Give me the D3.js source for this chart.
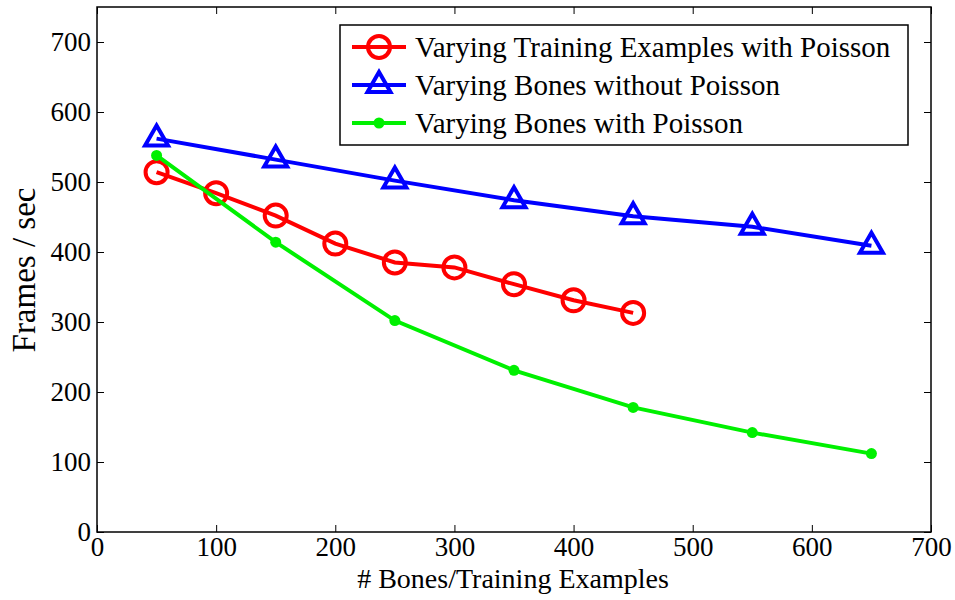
<!DOCTYPE html>
<html>
<head>
<meta charset="utf-8">
<script src="https://cdn.jsdelivr.net/npm/d3@7"></script>
<style>
  body { margin: 0; background: #fff; }
  text { font-family: "Liberation Serif", "DejaVu Serif", serif; fill: #000; }
</style>
</head>
<body>
<div class="chart"></div>
<script>
'use strict';

// series data
var trainX = [50, 100, 150, 200, 250, 300, 350, 400, 450];
var trainY = [514, 484, 452, 412, 385, 378, 354, 331, 313];
var bonesX = [50, 150, 250, 350, 450, 550, 650];
var noPoissonY = [562, 532, 502, 474, 451, 436, 409];
var poissonY = [538, 414, 302, 231, 178, 142, 112];

var xTicks = [0, 100, 200, 300, 400, 500, 600, 700];
var yTicks = [0, 100, 200, 300, 400, 500, 600, 700];
var legendLabels = ["Varying Training Examples with Poisson",
                    "Varying Bones without Poisson",
                    "Varying Bones with Poisson"];

var serif = "'Liberation Serif', 'Times New Roman', serif";

var margin = {top: 7, right: 24, bottom: 68, left: 97};
var width = 955 - margin.left - margin.right;
var height = 600 - margin.top - margin.bottom;

var svg = d3.select(".chart").append("svg")
            .attr("width", 955)
            .attr("height", 600);

var canvas = svg.append("g")
                .attr("transform", "translate(" + margin.left + "," + margin.top + ")");

var x = d3.scaleLinear().domain([0, 700]).range([0, width]);
var y = d3.scaleLinear().domain([0, 750]).range([height, 0]);

// frame
canvas.append("rect")
      .attr("width", width).attr("height", height)
      .attr("fill", "none").attr("stroke", "#000").attr("stroke-width", 1.5);

// inward ticks on all four sides
function styleAxis(g){
      g.attr("font-family", serif).attr("font-size", 27);
      g.select(".domain").remove();
      g.selectAll(".tick line").attr("stroke", "#000").attr("stroke-width", 1);
      g.selectAll(".tick text").attr("fill", "#000");
}
canvas.append("g").attr("transform", "translate(0," + height + ")")
      .call(d3.axisBottom(x).tickValues(xTicks).tickSizeInner(-7).tickPadding(5))
      .call(styleAxis);
canvas.append("g")
      .call(d3.axisTop(x).tickValues(xTicks).tickSizeInner(-7).tickFormat(""))
      .call(styleAxis);
canvas.append("g")
      .call(d3.axisLeft(y).tickValues(yTicks).tickSizeInner(-7).tickPadding(6))
      .call(styleAxis);
canvas.append("g").attr("transform", "translate(" + width + ",0)")
      .call(d3.axisRight(y).tickValues(yTicks).tickSizeInner(-7).tickFormat(""))
      .call(styleAxis);

// axis labels
svg.append("text")
   .attr("x", 513).attr("y", 588)
   .attr("text-anchor", "middle").attr("font-family", serif).attr("font-size", 28)
   .text("# Bones/Training Examples");
svg.append("text")
   .attr("transform", "translate(35,270) rotate(-90)")
   .attr("text-anchor", "middle").attr("font-family", serif).attr("font-size", 33)
   .text("Frames / sec");

var line = d3.line().x(function(d){ return x(d[0]); }).y(function(d){ return y(d[1]); });

var series = [
      {xs: trainX, ys: trainY, color: "#ff0000", marker: "circle"},
      {xs: bonesX, ys: noPoissonY, color: "#0000ff", marker: "triangle"},
      {xs: bonesX, ys: poissonY, color: "#00f000", marker: "dot"}
];

var triangle = "M0,-13 L11.5,7 L-11.5,7 Z";

function drawMarker(g, m, color){
      if(m === "circle"){
            g.append("circle").attr("r", 11).attr("fill", "none")
             .attr("stroke", color).attr("stroke-width", 4);
      }else if(m === "triangle"){
            g.append("path").attr("d", triangle).attr("fill", "none")
             .attr("stroke", color).attr("stroke-width", 4).attr("stroke-linejoin", "miter");
      }else{
            g.append("circle").attr("r", 5.5).attr("fill", color);
      }
}

series.forEach(function(s){
      var pts = d3.zip(s.xs, s.ys);
      canvas.append("path").datum(pts)
            .attr("d", line).attr("fill", "none")
            .attr("stroke", s.color).attr("stroke-width", 4);
      pts.forEach(function(p){
            var g = canvas.append("g").attr("transform", "translate(" + x(p[0]) + "," + y(p[1]) + ")");
            drawMarker(g, s.marker, s.color);
      });
});

// legend
var legend = svg.append("g").attr("transform", "translate(340,25)");
legend.append("rect").attr("width", 568).attr("height", 120)
      .attr("fill", "#fff").attr("stroke", "#000").attr("stroke-width", 1.5);
legendLabels.forEach(function(label, i){
      var cy = 22 + i * 38;
      var s = series[i];
      legend.append("line").attr("x1", 12).attr("x2", 66).attr("y1", cy).attr("y2", cy)
            .attr("stroke", s.color).attr("stroke-width", 4);
      var g = legend.append("g").attr("transform", "translate(39," + cy + ")");
      drawMarker(g, s.marker, s.color);
      legend.append("text").attr("x", 75).attr("y", cy + 10)
            .attr("font-family", serif).attr("font-size", 29).text(label);
});
</script>
</body>
</html>
